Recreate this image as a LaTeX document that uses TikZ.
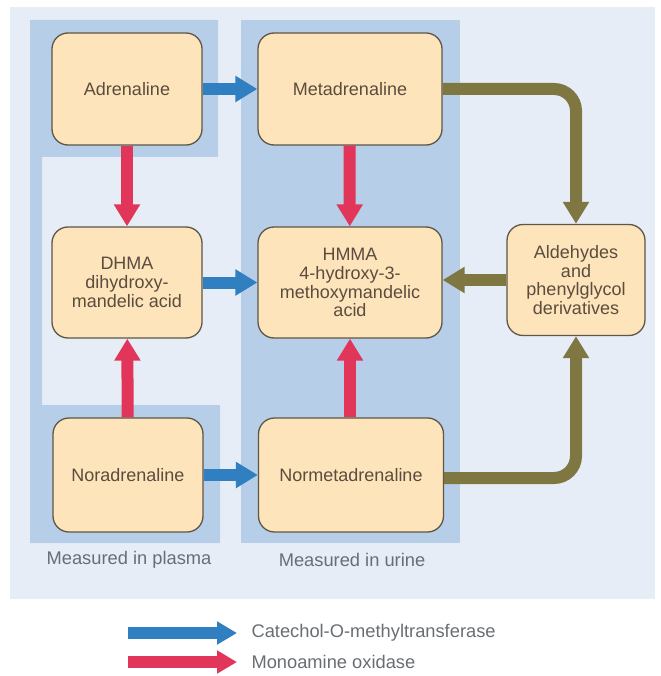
\documentclass[tikz,border=0pt]{standalone}
\usepackage{fontspec}
\setmainfont{Liberation Sans}
\usetikzlibrary{arrows.meta}
\definecolor{outerbg}{HTML}{E6EDF7}
\definecolor{regionbg}{HTML}{B7CEE9}
\definecolor{boxfill}{HTML}{FDE4BA}
\definecolor{boxline}{HTML}{5E5646}
\definecolor{boxtext}{HTML}{5A4C3E}
\definecolor{labeltext}{HTML}{6A6E74}
\definecolor{comtblue}{HTML}{2F7FC1}
\definecolor{maored}{HTML}{E2355A}
\definecolor{olivearr}{HTML}{7F7742}
\tikzset{
  compound/.style={draw=boxline, line width=1.3pt, fill=boxfill, rounded corners=16pt,
    text=boxtext, align=center, inner sep=0pt,
    font=\fontsize{18}{18.8}\selectfont},
  fatarrow/.style={line width=12pt, -{Triangle[width=25pt,length=22pt]}},
  bluearr/.style={fatarrow, draw=comtblue},
  redarr/.style={fatarrow, draw=maored},
  olivearrow/.style={fatarrow, draw=olivearr, rounded corners=22pt},
  caption/.style={text=labeltext, font=\fontsize{18.3}{20}\selectfont},
}
\begin{document}
\begin{tikzpicture}[x=1pt,y=-1pt]
\useasboundingbox (0,0) rectangle (660,676);
\fill[white] (0,0) rectangle (660,676);
% backgrounds
\fill[outerbg] (10,7) rectangle (655,599);
\fill[regionbg] (30,20) -- (218,20) -- (218,157) -- (42,157) -- (42,405) -- (220,405)
  -- (220,543) -- (30,543) -- cycle;
\fill[regionbg] (241,20) rectangle (460,543);
% compounds
\node[compound, minimum width=150pt, minimum height=112pt] (adr) at (127,89) {Adrenaline};
\node[compound, minimum width=184pt, minimum height=112pt] (meta) at (350,89) {Metadrenaline};
\node[compound, minimum width=150pt, minimum height=111pt] (dhma) at (127,282.5) {DHMA\\dihydroxy-\\mandelic acid};
\node[compound, minimum width=184pt, minimum height=111pt] (hmma) at (350,282.5) {HMMA\\4-hydroxy-3-\\methoxymandelic\\acid};
\node[compound, minimum width=138pt, minimum height=111pt] (ald) at (576,280) {Aldehydes\\and\\phenylglycol\\derivatives};
\node[compound, minimum width=150pt, minimum height=114pt] (nor) at (128,475) {Noradrenaline};
\node[compound, minimum width=185pt, minimum height=114pt] (normeta) at (351,475) {Normetadrenaline};
% COMT arrows
\draw[bluearr] (adr) -- (meta);
\draw[bluearr] (dhma) -- (hmma);
\draw[bluearr] (nor) -- (normeta);
% MAO arrows
\draw[redarr] (adr) -- (dhma);
\draw[redarr] (nor) -- (dhma);
\draw[redarr] ([xshift=-0.5pt]meta.south) -- (hmma);
\draw[redarr] ([xshift=-1pt]normeta.north) -- (hmma.south);
% olive arrows
\draw[olivearrow] (meta.east) -| (ald.north);
\draw[olivearrow] ([yshift=-3pt]normeta.east) -| (ald.south);
\draw[fatarrow, draw=olivearr] (ald.west) -- (hmma.east |- ald.west);
% captions
\node[caption] (plasma) at (129,560) {Measured in plasma};
\node[caption] (urine) at (352,560) {Measured in urine};
% legend
\coordinate (lb1) at (128,633);
\coordinate (lb2) at (237,633);
\coordinate (lr1) at (128,662);
\coordinate (lr2) at (237,662);
\draw[bluearr, -{Triangle[width=22pt,length=20pt]}] (lb1) -- (lb2);
\draw[redarr, -{Triangle[width=22pt,length=20pt]}] (lr1) -- (lr2);
\node[caption, anchor=west] (comt) at (248,633) {Catechol-O-methyltransferase};
\node[caption, anchor=west] (mao) at (248,662) {Monoamine oxidase};
\end{tikzpicture}
\end{document}
